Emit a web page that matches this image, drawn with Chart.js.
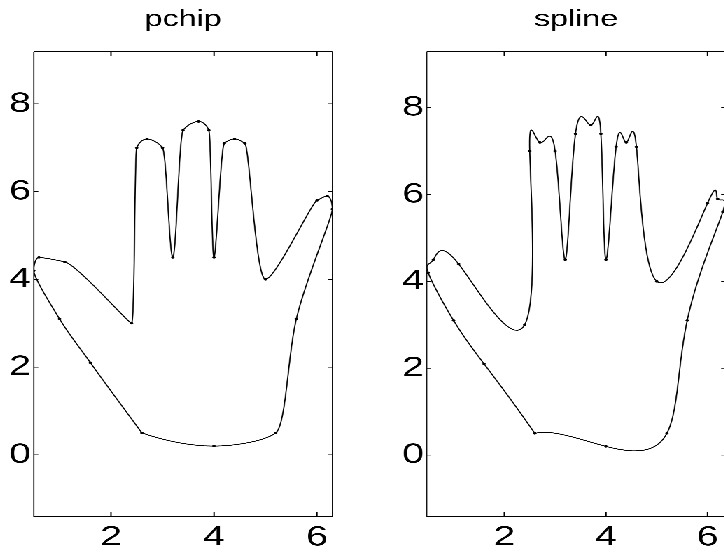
<!DOCTYPE html>
<html>
<head>
<meta charset="utf-8">
<script src="https://cdn.jsdelivr.net/npm/chart.js@4"></script>
<style>
  html, body { margin: 0; padding: 0; background: #fff; overflow: hidden; }
  /* the reference is stretched sideways, so the whole figure is too */
  #wrap { position: absolute; left: 0; top: 0; width: 560px; height: 552px; transform: scaleX(1.4); transform-origin: 0 0; }
  canvas { position: absolute; top: 0; }
</style>
</head>
<body>
<div id="wrap">
  <canvas id="pchipChart" width="262" height="552" style="left:0px"></canvas>
  <canvas id="splineChart" width="262" height="552" style="left:280px"></canvas>
</div>
<script>
// outline of the hand, in the order it was clicked (starts and ends at the wrist)
const handX = [2.6, 1.6, 1.0, 0.5, 0.6, 1.1, 2.4, 2.5, 2.7, 3.0, 3.2, 3.4, 3.7, 3.9, 4.0,
               4.2, 4.4, 4.6, 5.0, 6.0, 6.2, 6.3, 5.6, 5.2, 4.0, 2.6];
const handY = [0.5, 2.1, 3.1, 4.2, 4.5, 4.4, 3.0, 7.0, 7.2, 7.0, 4.5, 7.4, 7.6, 7.4, 4.5,
               7.1, 7.2, 7.1, 4.0, 5.8, 5.9, 5.6, 3.1, 0.5, 0.2, 0.5];
const xTicks = [2, 4, 6];
const yTicks = [0, 2, 4, 6, 8];

const FONT = "'Liberation Sans', Arial, Helvetica, sans-serif";

// pchip slopes (Fritsch-Carlson, unit spacing in t)
function endSlope(d1, d2) {
  let d = (3 * d1 - d2) / 2;
  if (Math.sign(d) !== Math.sign(d1)) d = 0;
  else if (Math.sign(d1) !== Math.sign(d2) && Math.abs(d) > Math.abs(3 * d1)) d = 3 * d1;
  return d;
}
function pchipEval(v) {
  const n = v.length, del = [], d = new Array(n).fill(0);
  for (let k = 0; k < n - 1; k++) del.push(v[k + 1] - v[k]);
  for (let k = 1; k < n - 1; k++) {
    if (del[k - 1] * del[k] > 0) d[k] = 2 / (1 / del[k - 1] + 1 / del[k]);
  }
  d[0] = endSlope(del[0], del[1]);
  d[n - 1] = endSlope(del[n - 2], del[n - 3]);
  return (k, s) => {
    const s2 = s * s, s3 = s2 * s;
    return (2 * s3 - 3 * s2 + 1) * v[k] + (s3 - 2 * s2 + s) * d[k] +
           (-2 * s3 + 3 * s2) * v[k + 1] + (s3 - s2) * d[k + 1];
  };
}

// cubic spline, not-a-knot ends
function splineEval(v) {
  const n = v.length;
  const A = [], b = [];
  for (let i = 0; i < n; i++) { A.push(new Array(n).fill(0)); b.push(0); }
  A[0][0] = 1; A[0][1] = -2; A[0][2] = 1;
  for (let i = 1; i < n - 1; i++) {
    A[i][i - 1] = 1; A[i][i] = 4; A[i][i + 1] = 1;
    b[i] = 6 * (v[i + 1] - 2 * v[i] + v[i - 1]);
  }
  A[n - 1][n - 3] = 1; A[n - 1][n - 2] = -2; A[n - 1][n - 1] = 1;
  for (let c = 0; c < n; c++) {
    let p = c;
    for (let r = c + 1; r < n; r++) if (Math.abs(A[r][c]) > Math.abs(A[p][c])) p = r;
    [A[c], A[p]] = [A[p], A[c]]; [b[c], b[p]] = [b[p], b[c]];
    for (let r = c + 1; r < n; r++) {
      const f = A[r][c] / A[c][c];
      if (!f) continue;
      for (let j = c; j < n; j++) A[r][j] -= f * A[c][j];
      b[r] -= f * b[c];
    }
  }
  const M = new Array(n).fill(0);
  for (let r = n - 1; r >= 0; r--) {
    let s = b[r];
    for (let j = r + 1; j < n; j++) s -= A[r][j] * M[j];
    M[r] = s / A[r][r];
  }
  return (k, s) => {
    const u = 1 - s;
    return u * v[k] + s * v[k + 1] + (u * u * u - u) * M[k] / 6 + (s * s * s - s) * M[k + 1] / 6;
  };
}

function curvePoints(method) {
  const fx = method(handX), fy = method(handY);
  const pts = [], steps = 20;
  for (let k = 0; k < handX.length - 1; k++) {
    for (let j = 0; j < steps; j++) pts.push({ x: fx(k, j / steps), y: fy(k, j / steps) });
  }
  pts.push({ x: handX[handX.length - 1], y: handY[handY.length - 1] });
  return pts;
}

// matlab style box with inward ticks on all four sides
const boxPlugin = {
  id: 'box',
  afterDatasetsDraw(chart) {
    const { ctx, chartArea: a, scales } = chart;
    ctx.save();
    ctx.strokeStyle = '#000';
    ctx.lineWidth = 1;
    ctx.beginPath();
    ctx.moveTo(a.left, a.top); ctx.lineTo(a.right, a.top);
    ctx.moveTo(a.left, a.bottom); ctx.lineTo(a.right, a.bottom);
    xTicks.forEach(v => {
      const px = scales.x.getPixelForValue(v);
      ctx.moveTo(px, a.bottom); ctx.lineTo(px, a.bottom - 4.5);
      ctx.moveTo(px, a.top); ctx.lineTo(px, a.top + 4.5);
    });
    ctx.stroke();
    ctx.lineWidth = 0.75;
    ctx.beginPath();
    ctx.moveTo(a.left, a.top); ctx.lineTo(a.left, a.bottom);
    ctx.moveTo(a.right, a.top); ctx.lineTo(a.right, a.bottom);
    yTicks.forEach(v => {
      const py = scales.y.getPixelForValue(v);
      ctx.moveTo(a.left, py); ctx.lineTo(a.left + 3.2, py);
      ctx.moveTo(a.right, py); ctx.lineTo(a.right - 3.2, py);
    });
    ctx.stroke();
    ctx.restore();
  }
};

function makeChart(id, title, method, xLim, yLim, yWidth, padRight) {
  const knots = handX.map((x, i) => ({ x: x, y: handY[i] }));
  return new Chart(document.getElementById(id).getContext('2d'), {
    type: 'scatter',
    data: {
      datasets: [
        // tiny tension keeps Chart.js off its per-pixel fast path, which makes steep lines jagged
        { data: curvePoints(method), showLine: true, borderColor: '#000', borderWidth: 0.9,
          pointRadius: 0, tension: 0.001 },
        { data: knots, showLine: false, pointRadius: 1.2, backgroundColor: '#000',
          borderWidth: 0 }
      ]
    },
    options: {
      responsive: false,
      animation: false,
      devicePixelRatio: 3,
      events: [],
      layout: { padding: { left: 0, right: padRight, top: 0, bottom: 0 } },
      plugins: {
        legend: { display: false },
        tooltip: { enabled: false },
        title: {
          display: true, text: title, color: '#000', fullSize: false,
          font: { family: FONT, size: 23, weight: 'normal' },
          padding: { top: 5.9, bottom: 18.2 }
        }
      },
      scales: {
        x: {
          type: 'linear', min: xLim[0], max: xLim[1],
          grid: { display: false, drawTicks: false }, border: { display: false },
          ticks: { color: '#000', font: { family: FONT, size: 28 }, padding: 4, maxRotation: 0 },
          afterBuildTicks: s => { s.ticks = xTicks.map(v => ({ value: v })); },
          afterFit: s => { s.height = 35.3; }
        },
        y: {
          type: 'linear', min: yLim[0], max: yLim[1],
          grid: { display: false, drawTicks: false }, border: { display: false },
          ticks: { color: '#000', font: { family: FONT, size: 28 }, padding: 2 },
          afterBuildTicks: s => { s.ticks = yTicks.map(v => ({ value: v })); },
          afterFit: s => { s.width = yWidth; }
        }
      }
    },
    plugins: [boxPlugin]
  });
}

makeChart('pchipChart', 'pchip', pchipEval, [0.5, 6.3], [-1.41, 9.19], 24.1, 24.6);
makeChart('splineChart', 'spline', splineEval, [0.471, 6.355], [-1.42, 9.29], 24.8, 23.7);
</script>
</body>
</html>
